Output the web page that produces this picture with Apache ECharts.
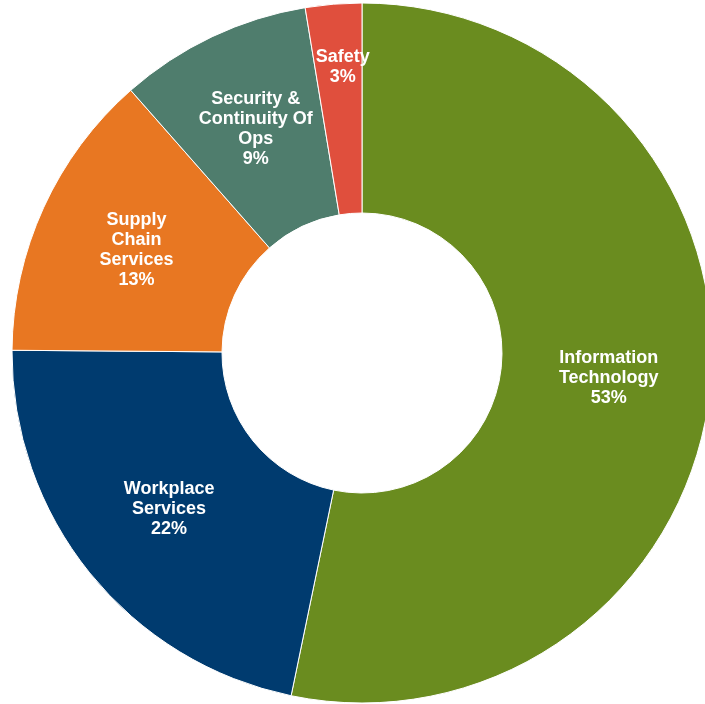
<!DOCTYPE html>
<html>
<head>
<meta charset="utf-8">
<script src="https://cdn.jsdelivr.net/npm/echarts@6/dist/echarts.min.js"></script>
<style>
  html, body { margin: 0; padding: 0; background: #fff; }
  #chart { width: 705px; height: 704px; }
</style>
</head>
<body>
<div id="chart"></div>
<script>
// slice names (line breaks as in the original labels)
const categories = [
  "Information\nTechnology",
  "Workplace\nServices",
  "Supply\nChain\nServices",
  "Security &\nContinuity Of\nOps",
  "Safety"
];
// share of total
const values = [53.3, 21.9, 13.4, 8.9, 2.6];
const colors = ["#6a8c1f", "#003b6f", "#e87722", "#4f7d6d", "#e04f3d"];

const chart = echarts.init(document.getElementById("chart"));

const option = {
  animation: false,
  series: [
    {
      type: "pie",
      center: [362, 353],
      radius: [140, 350],
      startAngle: 90,
      clockwise: true,
      avoidLabelOverlap: false,
      itemStyle: {
        borderColor: "#ffffff",
        borderWidth: 1
      },
      label: {
        show: true,
        position: "inside",
        color: "#ffffff",
        fontFamily: "Liberation Sans, Arial, sans-serif",
        fontWeight: "bold",
        fontSize: 18,
        lineHeight: 20,
        align: "center",
        formatter: function (p) {
          return p.name + "\n" + Math.round(p.percent) + "%";
        }
      },
      labelLayout: function (params) {
        // the thin Safety slice has its label pushed out toward the rim
        if (params.dataIndex === 4) {
          return { dx: 1, dy: -39 };
        }
      },
      emphasis: { disabled: true },
      data: categories.map(function (name, i) {
        return { name: name, value: values[i], itemStyle: { color: colors[i] } };
      })
    }
  ]
};

chart.setOption(option);
</script>
</body>
</html>
